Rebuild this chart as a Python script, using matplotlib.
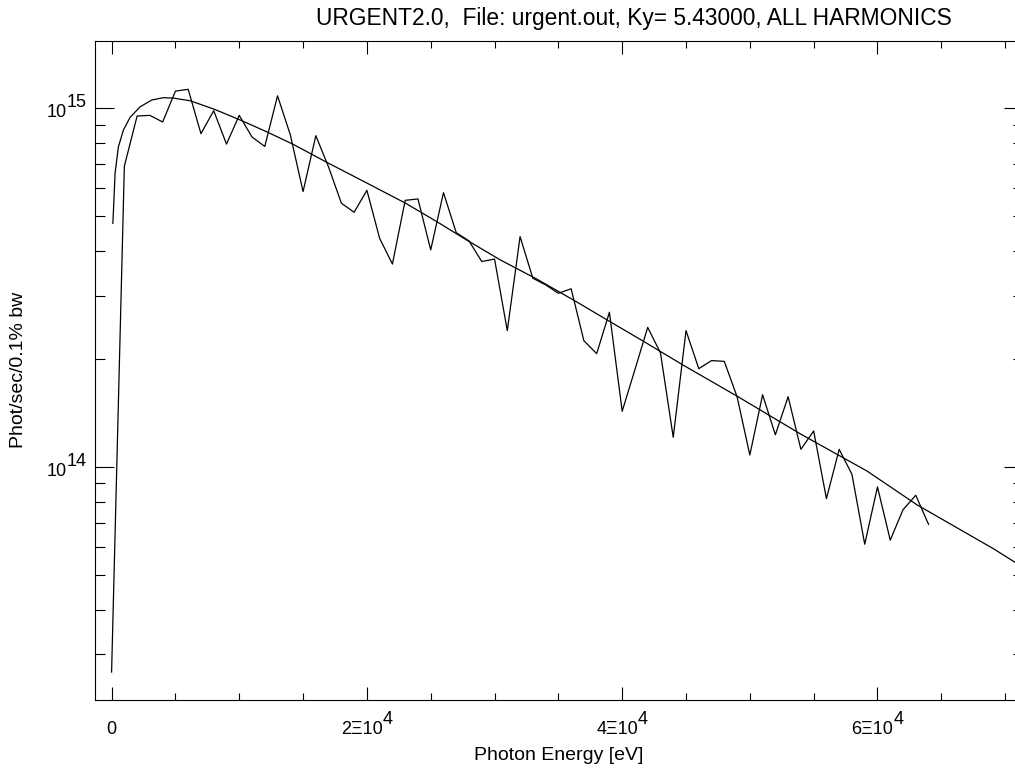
import numpy as np
import matplotlib
matplotlib.use("Agg")
import matplotlib.pyplot as plt
from matplotlib.ticker import FixedLocator, MultipleLocator, LogLocator, NullFormatter
from matplotlib.transforms import IdentityTransform

plt.rcParams['font.family'] = ['Liberation Sans', 'DejaVu Sans']

# jagged spectrum, one point every 1000 eV
energy = np.arange(0, 65000, 1000)
flux = [2.68e13, 6.90e14, 9.52e14, 9.56e14, 9.16e14, 1.117e15, 1.13e15, 8.50e14,
        9.85e14, 7.95e14, 9.56e14, 8.32e14, 7.83e14, 1.084e15, 8.44e14, 5.86e14,
        8.39e14, 6.86e14, 5.44e14, 5.13e14, 5.91e14, 4.34e14, 3.68e14, 5.54e14,
        5.59e14, 4.03e14, 5.82e14, 4.50e14, 4.27e14, 3.74e14, 3.80e14, 2.40e14,
        4.39e14, 3.36e14, 3.22e14, 3.05e14, 3.14e14, 2.25e14, 2.07e14, 2.70e14,
        1.43e14, 1.87e14, 2.45e14, 2.08e14, 1.21e14, 2.40e14, 1.88e14, 1.98e14,
        1.97e14, 1.57e14, 1.08e14, 1.59e14, 1.23e14, 1.57e14, 1.12e14, 1.26e14,
        8.16e13, 1.12e14, 9.54e13, 6.09e13, 8.80e13, 6.25e13, 7.60e13, 8.34e13,
        6.92e13]

# smooth curve
smooth_e = [100, 274, 533, 925, 1450, 2233, 3150, 4060, 4843, 6150, 8056, 10071,
            12163, 14247, 16865, 20000, 23025, 25486, 27837, 30447, 33323, 36191,
            39067, 41677, 44812, 49075, 53973, 59185, 63104, 69107, 71400]
smooth_f = [4.78e14, 6.60e14, 7.81e14, 8.70e14, 9.44e14, 1.010e15, 1.055e15, 1.071e15,
            1.068e15, 1.050e15, 9.94e14, 9.28e14, 8.60e14, 7.93e14, 7.07e14, 6.19e14,
            5.44e14, 4.83e14, 4.29e14, 3.78e14, 3.34e14, 2.92e14, 2.54e14, 2.24e14,
            1.92e14, 1.57e14, 1.236e14, 9.74e13, 7.84e13, 5.91e13, 5.25e13]

xticks = [0, 20000, 40000, 60000]
xtick_base = ['0', '2\u039e10', '4\u039e10', '6\u039e10']
xtick_exp = ['', '4', '4', '4']
yticks = [1e14, 1e15]
ytick_base = ['10', '10']
ytick_exp = ['14', '15']

W, H = 1015, 769
fig = plt.figure(figsize=(W / 100, H / 100), dpi=100)
ax = fig.add_axes([95 / W, 69 / H, 928 / W, 659 / H])

ax.plot(energy, flux, color='black', lw=0.9)
ax.plot(smooth_e, smooth_f, color='black', lw=0.9)

ax.set_yscale('log')
ax.set_xlim(-1300, 71400)
ax.set_ylim(2.24e13, 1.541e15)

ax.xaxis.set_major_locator(FixedLocator(xticks))
ax.xaxis.set_minor_locator(MultipleLocator(5000))
ax.yaxis.set_major_locator(FixedLocator(yticks))
ax.yaxis.set_minor_locator(LogLocator(base=10, subs=np.arange(2, 10)))
for axis in (ax.xaxis, ax.yaxis):
    axis.set_major_formatter(NullFormatter())
    axis.set_minor_formatter(NullFormatter())

ax.tick_params(which='both', direction='in', top=True, right=True, width=0.8, color='black')
ax.tick_params(axis='x', which='major', length=9.4)
ax.tick_params(axis='x', which='minor', length=4.7)
ax.tick_params(axis='y', which='major', length=13.7)
ax.tick_params(axis='y', which='minor', length=7.2)
for sp in ax.spines.values():
    sp.set_linewidth(0.8)

# IDL style tick labels: exponent full size, raised ~10 px
fs = 13
rend = fig.canvas.get_renderer()
ident = IdentityTransform()


def text_width(s):
    t = fig.text(0, 0, s, fontsize=fs)
    w = t.get_window_extent(rend).width
    t.remove()
    return w


for v, b, e in zip(xticks, xtick_base, xtick_exp):
    px = ax.transData.transform((v, 2e14))[0]
    wb = text_width(b)
    we = text_width(e) if e else 0
    left = px - (wb + we) / 2
    fig.text(left, H - 734, b, transform=ident, ha='left', va='baseline', fontsize=fs)
    if e:
        fig.text(left + wb, H - 724, e, transform=ident, ha='left', va='baseline', fontsize=fs)

for v, b, e in zip(yticks, ytick_base, ytick_exp):
    py = ax.transData.transform((0, v))[1]
    fig.text(66.7, py - 9, b, transform=ident, ha='right', va='baseline', fontsize=fs)
    fig.text(66.7, py + 1, e, transform=ident, ha='left', va='baseline', fontsize=fs)

fig.text(634 / W, 1 - 19 / H, 'URGENT2.0,  File: urgent.out, Ky= 5.43000, ALL HARMONICS',
         ha='center', va='center', fontsize=16.4)
fig.text(559 / W, 1 - 755 / H, 'Photon Energy [eV]', ha='center', va='center', fontsize=14)
fig.text(19 / W, 1 - 370 / H, 'Phot/sec/0.1% bw', ha='center', va='center',
         rotation=90, fontsize=14)

fig.savefig('out.png', dpi=100)
